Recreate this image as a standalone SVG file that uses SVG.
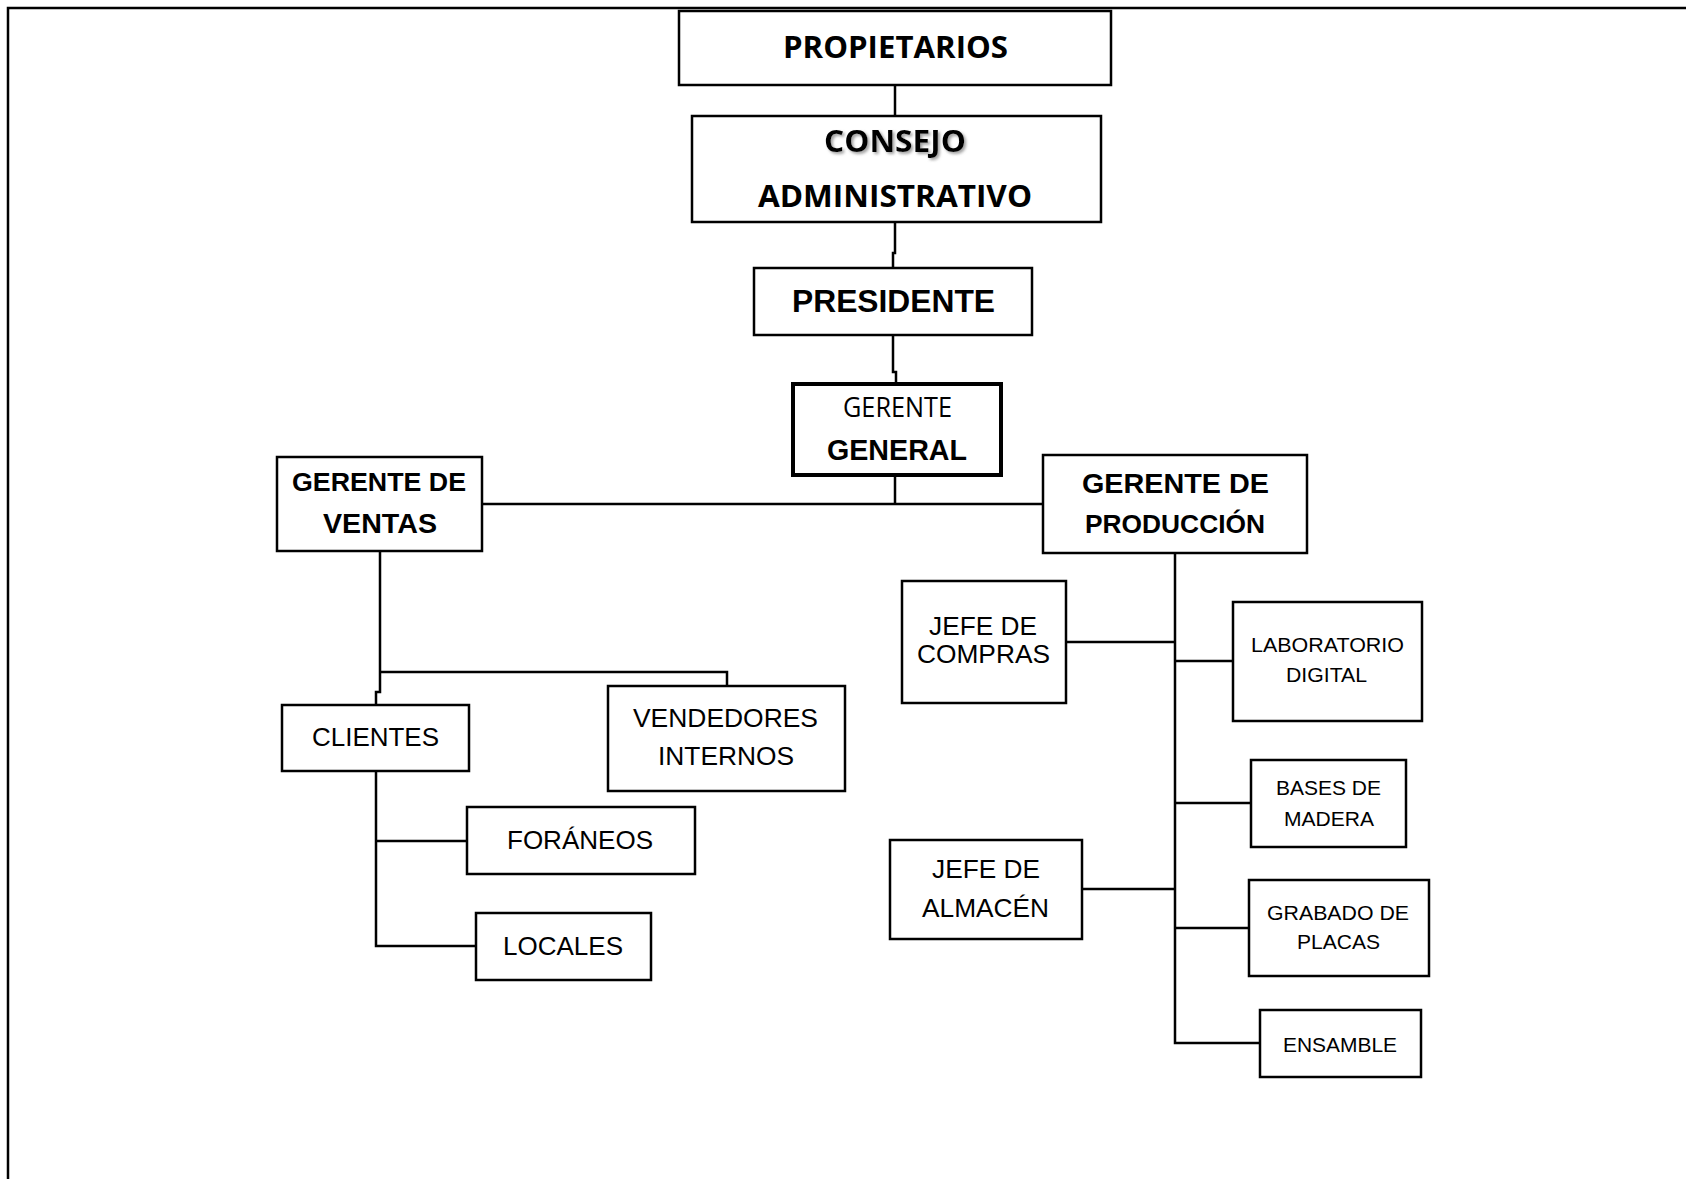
<svg xmlns="http://www.w3.org/2000/svg" width="1686" height="1179" viewBox="0 0 1686 1179">
<defs>
<filter id="shadow" x="-10%" y="-30%" width="130%" height="170%">
<feDropShadow dx="2" dy="2" stdDeviation="1.5" flood-color="#888888" flood-opacity="0.8"/>
</filter>
</defs>
<style>
.box{fill:#ffffff;stroke:#000000;stroke-width:2.5}
.thick{stroke-width:4}
.conn{fill:none;stroke:#000000;stroke-width:2.5}
.cal{font-family:"Open Sans","Noto Sans",sans-serif;fill:#000000}
.arb{font-family:"Liberation Sans",Arial,sans-serif;font-weight:bold;fill:#000000}
.ar{font-family:"Liberation Sans",Arial,sans-serif;fill:#000000}
</style>
<rect x="0" y="0" width="1686" height="1179" fill="#ffffff"/>
<path d="M8,1179 V8 H1686" fill="none" stroke="#000000" stroke-width="2.5"/>

<g id="connectors">
<path class="conn" d="M895,85 V116"/>
<path class="conn" d="M895,222 V253 H893 V267"/>
<path class="conn" d="M893,335 V372 H896 V383"/>
<path class="conn" d="M895,476 V504"/>
<path class="conn" d="M482,504 H1043"/>
<path class="conn" d="M380,551 V692 H376 V705"/>
<path class="conn" d="M380,672 H727 V686"/>
<path class="conn" d="M376,771 V946 H476"/>
<path class="conn" d="M376,841 H467"/>
<path class="conn" d="M1175,553 V1043 H1260"/>
<path class="conn" d="M1066,642 H1175"/>
<path class="conn" d="M1175,661 H1233"/>
<path class="conn" d="M1175,803 H1251"/>
<path class="conn" d="M1082,889 H1175"/>
<path class="conn" d="M1175,928 H1249"/>
</g>

<g id="propietarios">
<rect class="box" x="679" y="11" width="432" height="74"/>
<text class="cal" x="783" y="58" font-size="30" font-weight="bold" textLength="225" lengthAdjust="spacingAndGlyphs">PROPIETARIOS</text>
</g>

<g id="consejo">
<rect class="box" x="692" y="116" width="409" height="106"/>
<text class="cal" x="824" y="152" font-size="30" font-weight="bold" textLength="142" lengthAdjust="spacingAndGlyphs" filter="url(#shadow)">CONSEJO</text>
<text class="cal" x="758" y="207" font-size="30" font-weight="bold" textLength="274" lengthAdjust="spacingAndGlyphs">ADMINISTRATIVO</text>
</g>

<g id="presidente">
<rect class="box" x="754" y="268" width="278" height="67"/>
<text class="arb" x="792" y="312" font-size="31" textLength="203" lengthAdjust="spacingAndGlyphs">PRESIDENTE</text>
</g>

<g id="gerente-general">
<rect class="box thick" x="793" y="384" width="208" height="91"/>
<text class="cal" x="843" y="417" font-size="27" textLength="109" lengthAdjust="spacingAndGlyphs">GERENTE</text>
<text class="arb" x="827" y="460" font-size="29" textLength="140" lengthAdjust="spacingAndGlyphs">GENERAL</text>
</g>

<g id="gerente-ventas">
<rect class="box" x="277" y="457" width="205" height="94"/>
<text class="arb" x="292" y="491" font-size="26" textLength="174" lengthAdjust="spacingAndGlyphs">GERENTE DE</text>
<text class="arb" x="323" y="533" font-size="28" textLength="114" lengthAdjust="spacingAndGlyphs">VENTAS</text>
</g>

<g id="gerente-produccion">
<rect class="box" x="1043" y="455" width="264" height="98"/>
<text class="arb" x="1082" y="493" font-size="28" textLength="187" lengthAdjust="spacingAndGlyphs">GERENTE DE</text>
<text class="arb" x="1085" y="533" font-size="26" textLength="180" lengthAdjust="spacingAndGlyphs">PRODUCCIÓN</text>
</g>

<g id="clientes">
<rect class="box" x="282" y="705" width="187" height="66"/>
<text class="ar" x="312" y="746" font-size="26" textLength="127" lengthAdjust="spacingAndGlyphs">CLIENTES</text>
</g>

<g id="vendedores-internos">
<rect class="box" x="608" y="686" width="237" height="105"/>
<text class="ar" x="633" y="727" font-size="26" textLength="185" lengthAdjust="spacingAndGlyphs">VENDEDORES</text>
<text class="ar" x="658" y="765" font-size="26" textLength="136" lengthAdjust="spacingAndGlyphs">INTERNOS</text>
</g>

<g id="foraneos">
<rect class="box" x="467" y="807" width="228" height="67"/>
<text class="ar" x="507" y="849" font-size="26" textLength="146" lengthAdjust="spacingAndGlyphs">FORÁNEOS</text>
</g>

<g id="locales">
<rect class="box" x="476" y="913" width="175" height="67"/>
<text class="ar" x="503" y="955" font-size="26" textLength="120" lengthAdjust="spacingAndGlyphs">LOCALES</text>
</g>

<g id="jefe-compras">
<rect class="box" x="902" y="581" width="164" height="122"/>
<text class="ar" x="929" y="635" font-size="26" textLength="108" lengthAdjust="spacingAndGlyphs">JEFE DE</text>
<text class="ar" x="917" y="663" font-size="26" textLength="133" lengthAdjust="spacingAndGlyphs">COMPRAS</text>
</g>

<g id="laboratorio-digital">
<rect class="box" x="1233" y="602" width="189" height="119"/>
<text class="ar" x="1251" y="652" font-size="21" textLength="153" lengthAdjust="spacingAndGlyphs">LABORATORIO</text>
<text class="ar" x="1286" y="682" font-size="21" textLength="81" lengthAdjust="spacingAndGlyphs">DIGITAL</text>
</g>

<g id="bases-madera">
<rect class="box" x="1251" y="760" width="155" height="87"/>
<text class="ar" x="1276" y="795" font-size="21" textLength="105" lengthAdjust="spacingAndGlyphs">BASES DE</text>
<text class="ar" x="1284" y="826" font-size="21" textLength="90" lengthAdjust="spacingAndGlyphs">MADERA</text>
</g>

<g id="jefe-almacen">
<rect class="box" x="890" y="840" width="192" height="99"/>
<text class="ar" x="932" y="878" font-size="26" textLength="108" lengthAdjust="spacingAndGlyphs">JEFE DE</text>
<text class="ar" x="922" y="917" font-size="26" textLength="127" lengthAdjust="spacingAndGlyphs">ALMACÉN</text>
</g>

<g id="grabado-placas">
<rect class="box" x="1249" y="880" width="180" height="96"/>
<text class="ar" x="1267" y="920" font-size="21" textLength="142" lengthAdjust="spacingAndGlyphs">GRABADO DE</text>
<text class="ar" x="1297" y="949" font-size="21" textLength="83" lengthAdjust="spacingAndGlyphs">PLACAS</text>
</g>

<g id="ensamble">
<rect class="box" x="1260" y="1010" width="161" height="67"/>
<text class="ar" x="1283" y="1052" font-size="21" textLength="114" lengthAdjust="spacingAndGlyphs">ENSAMBLE</text>
</g>
</svg>
